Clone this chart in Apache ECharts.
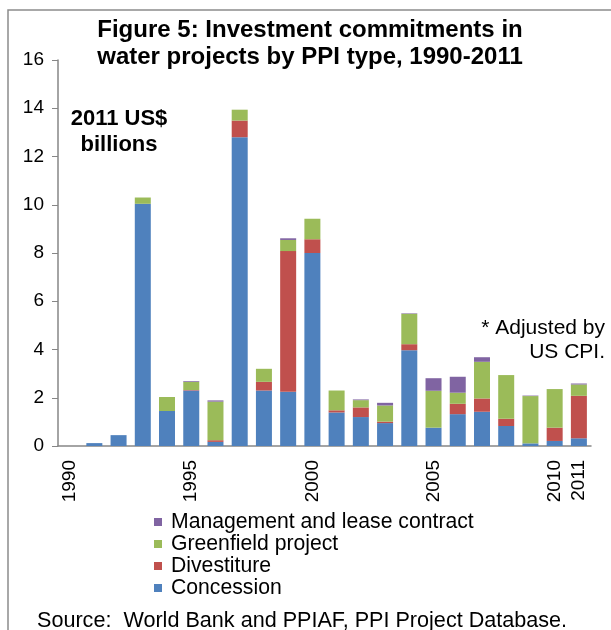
<!DOCTYPE html>
<html>
<head>
<meta charset="utf-8">
<script src="https://cdn.jsdelivr.net/npm/echarts@6/dist/echarts.min.js"></script>
<style>
  html, body { margin: 0; padding: 0; background: #fff; }
  #chart { width: 611px; height: 630px; }
</style>
</head>
<body>
<div id="chart"></div>
<script>
// years on the category axis
const years = ['1990','1991','1992','1993','1994','1995','1996','1997','1998','1999','2000',
               '2001','2002','2003','2004','2005','2006','2007','2008','2009','2010','2011'];
const shownYears = ['1990','1995','2000','2005','2010','2011'];

// 2011 US$ billions
const concession  = [0, 0.12, 0.45, 10.04, 1.45, 2.30, 0.17, 12.80, 2.30, 2.25, 8.00,
                     1.39, 1.20, 0.95, 3.97, 0.76, 1.32, 1.42, 0.83, 0.11, 0.21, 0.32];
const divestiture = [0, 0, 0, 0, 0, 0.02, 0.07, 0.69, 0.36, 5.83, 0.57,
                     0.09, 0.40, 0.06, 0.25, 0, 0.43, 0.55, 0.30, 0, 0.55, 1.76];
const greenfield  = [0, 0, 0, 0.26, 0.58, 0.34, 1.60, 0.45, 0.54, 0.46, 0.85,
                     0.82, 0.30, 0.67, 1.26, 1.53, 0.46, 1.52, 1.81, 1.96, 1.60, 0.47];
const management  = [0, 0, 0, 0, 0, 0.03, 0.05, 0, 0, 0.07, 0,
                     0, 0.03, 0.11, 0.02, 0.52, 0.66, 0.19, 0, 0.02, 0, 0.04];

const colors = {
  concession: '#4F81BD',
  divestiture: '#C0504D',
  greenfield: '#9BBB59',
  management: '#8064A2'
};

const font = 'Arial, "Liberation Sans", sans-serif';
const chart = echarts.init(document.getElementById('chart'));

function bar(name, data, color) {
  return {
    name: name,
    type: 'bar',
    stack: 'total',
    barWidth: 16,
    data: data,
    itemStyle: { color: color },
    emphasis: { disabled: true }
  };
}

const option = {
  animation: false,
  textStyle: { fontFamily: font },
  title: {
    text: 'Figure 5: Investment commitments in\nwater projects by PPI type, 1990-2011',
    left: 305,
    top: 12,
    textAlign: 'center',
    textStyle: { fontSize: 24, fontWeight: 'bold', color: '#000', lineHeight: 27, fontFamily: font }
  },
  grid: { left: 58, right: 20, top: 60, bottom: 184 },
  legend: {
    orient: 'vertical',
    left: 149,
    top: 506,
    icon: 'rect',
    itemWidth: 8,
    itemHeight: 8,
    itemGap: 0,
    selectedMode: false,
    data: ['Management and lease contract', 'Greenfield project', 'Divestiture', 'Concession'],
    textStyle: { fontSize: 21.2, lineHeight: 22, color: '#000', padding: [0, 0, 0, 4], fontFamily: font }
  },
  xAxis: {
    type: 'category',
    data: years,
    axisLine: { lineStyle: { color: '#868686', width: 1.5 } },
    axisTick: { show: false },
    axisLabel: {
      rotate: 90,
      margin: 14,
      fontSize: 19,
      color: '#000',
      fontFamily: font,
      interval: function (idx, val) { return shownYears.indexOf(val) >= 0; }
    }
  },
  yAxis: {
    type: 'value',
    min: 0,
    max: 16,
    interval: 2,
    splitLine: { show: false },
    axisLine: { show: true, lineStyle: { color: '#868686', width: 1.5 } },
    axisTick: { show: true, inside: false, length: 6, lineStyle: { color: '#868686' } },
    axisLabel: { fontSize: 19, color: '#000', margin: 14, fontFamily: font }
  },
  graphic: [
    {
      type: 'polyline',
      shape: { points: [[8, 640], [8, 10], [640, 10]] },
      style: { stroke: '#8c8c8c', lineWidth: 1.5, fill: null },
      silent: true
    },
    {
      type: 'text', x: 119, y: 106,
      style: { text: '2011 US$\nbillions', font: 'bold 22px ' + font, fill: '#000', align: 'center', lineHeight: 26 }
    },
    {
      type: 'text', x: 605, y: 318,
      style: { text: '* Adjusted by', font: '21px ' + font, fill: '#000', align: 'right' }
    },
    {
      type: 'text', x: 605, y: 342,
      style: { text: 'US CPI.', font: '21px ' + font, fill: '#000', align: 'right' }
    },
    {
      type: 'text', x: 37, y: 610,
      style: { text: 'Source:  World Bank and PPIAF, PPI Project Database.', font: '21.6px ' + font, fill: '#000' }
    }
  ],
  series: [
    bar('Concession', concession, colors.concession),
    bar('Divestiture', divestiture, colors.divestiture),
    bar('Greenfield project', greenfield, colors.greenfield),
    bar('Management and lease contract', management, colors.management)
  ]
};

chart.setOption(option);
</script>
</body>
</html>
